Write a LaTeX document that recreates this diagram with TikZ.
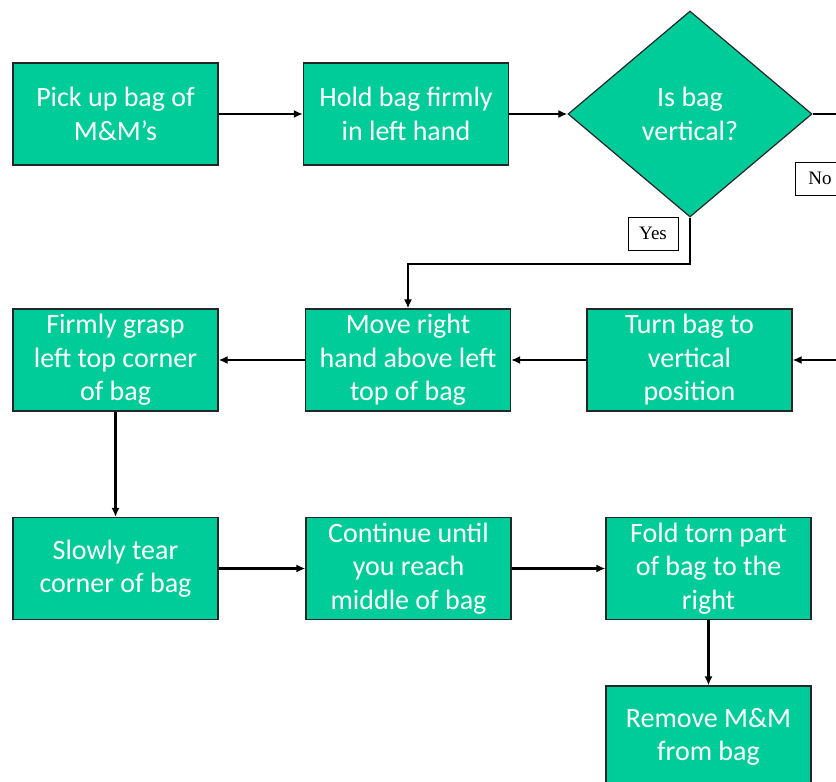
\documentclass[tikz,border=0pt]{standalone}
\usepackage{fontspec}
\setmainfont{Carlito}
\newfontfamily\labelfont{Liberation Serif}
\usetikzlibrary{arrows.meta, shapes.geometric, calc}
\definecolor{stepgreen}{HTML}{00CC99}

\begin{document}
\begin{tikzpicture}[x=1pt, y=-1pt,
    stepbox/.style={draw=black!85, line width=1.2pt, fill=stepgreen, text=white,
      minimum width=205pt, minimum height=102pt, inner sep=0pt, align=center,
      font=\fontsize{28}{33.5}\selectfont},
    askbox/.style={stepbox, diamond, minimum width=244pt, minimum height=206pt},
    answer/.style={draw=black, line width=1pt, fill=white, minimum width=50pt,
      minimum height=33pt, inner sep=0pt, font=\labelfont\fontsize{19}{22}\selectfont},
    flow/.style={line width=2.4pt, -{Latex[length=9pt,width=8pt]}}]
            \clip (0,0) rectangle (836,782);
            % first row
            \node[stepbox] (pick) at (115.5,114) {Pick up bag of\\M\&M’s};
            \node[stepbox] (hold) at (406,114) {Hold bag firmly\\in left hand};
            \node[askbox] (check) at (690,114) {Is bag\\vertical?};
            \node[answer] (yes) at (653,233.5) {Yes};
            \node[answer] (no) at (820,178.5) {No};
            % second row
            \node[stepbox] (grasp) at (115.5,360) {Firmly grasp\\left top corner\\of bag};
            \node[stepbox] (move) at (408,360) {Move right\\hand above left\\top of bag};
            \node[stepbox] (turn) at (689.5,360) {Turn bag to\\vertical\\position};
            % third row
            \node[stepbox] (tear) at (115.5,568.5) {Slowly tear\\corner of bag};
            \node[stepbox] (cont) at (408.5,568.5) {Continue until\\you reach\\middle of bag};
            \node[stepbox] (fold) at (708.5,568.5) {Fold torn part\\of bag to the\\right};
            \node[stepbox] (remove) at (708.5,737) {Remove M\&M\\from bag};
            \coordinate (yesturn) at (690,264);
            \coordinate (noturn) at (870,114);
            \draw[flow] (pick) -- (hold);
            \draw[flow] (hold) -- (check);
            \draw[flow] (check.south) -- (yesturn) -| (move.north);
            \draw[flow] (check.east) -- (noturn) |- (turn.east);
            \draw[flow] (turn) -- (move);
            \draw[flow] (move) -- (grasp);
            \draw[flow] (grasp) -- (tear);
            \draw[flow] (tear) -- (cont);
            \draw[flow] (cont) -- (fold);
            \draw[flow] (fold) -- (remove);
        \end{tikzpicture}
\end{document}
